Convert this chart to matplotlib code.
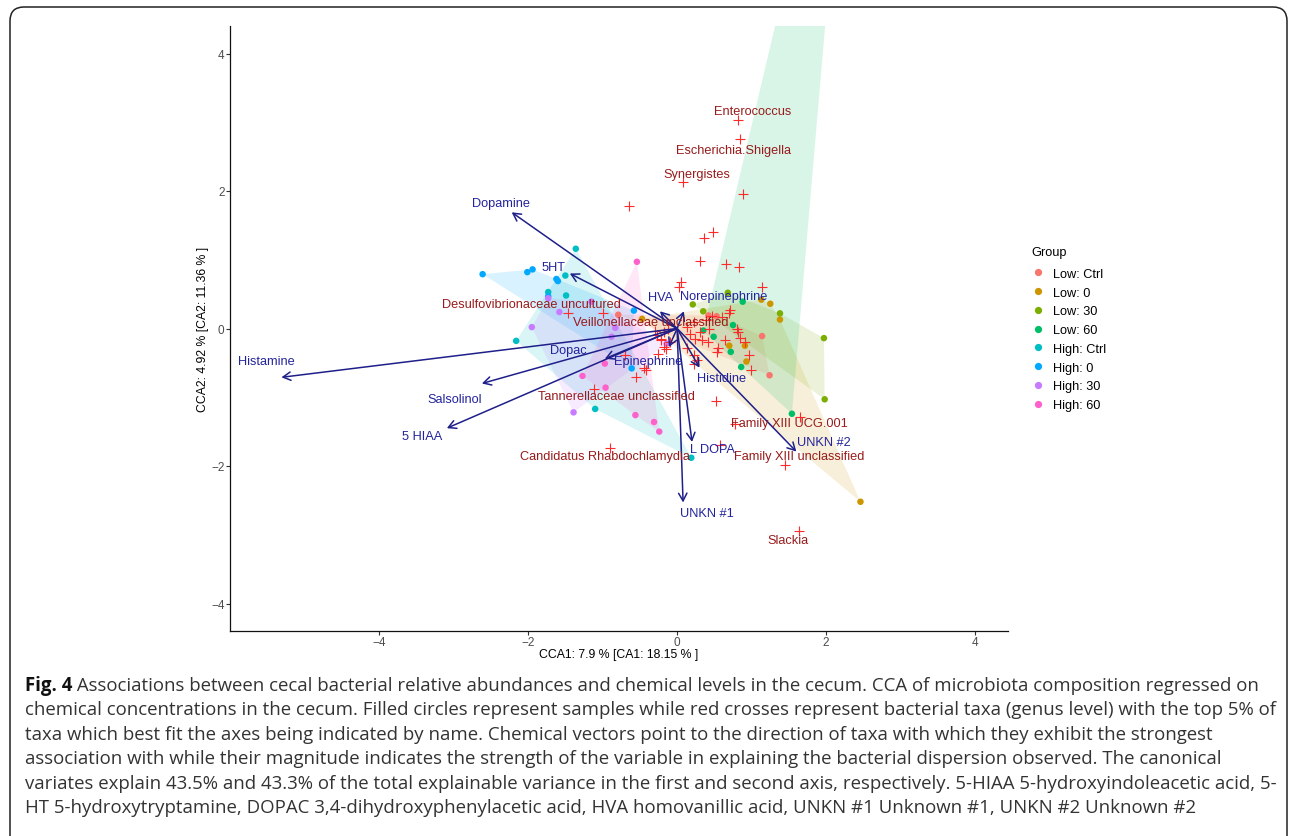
import matplotlib
matplotlib.use("Agg")
import matplotlib.pyplot as plt
from matplotlib.lines import Line2D
from matplotlib.patches import FancyBboxPatch, Polygon
from matplotlib.transforms import IdentityTransform

# ---- 데이터 ----
group_names = ["Low: Ctrl", "Low: 0", "Low: 30", "Low: 60",
               "High: Ctrl", "High: 0", "High: 30", "High: 60"]
group_colors = ["#F8766D", "#CD9600", "#7CAE00", "#00BE67",
                "#00BFC4", "#00A9FF", "#C77CFF", "#FF61CC"]

low_ctrl = [(0.42, 0.19), (0.53, 0.18), (1.14, -0.11), (1.24, -0.68), (-0.79, 0.20)]
low_0 = [(1.13, 0.42), (1.25, 0.36), (1.38, 0.13), (0.70, -0.25), (0.91, -0.25),
         (0.93, -0.48), (2.46, -2.52), (-0.47, 0.14)]
low_30 = [(0.21, 0.35), (0.35, 0.25), (0.68, 0.52), (1.38, 0.22), (1.97, -0.14),
          (1.98, -1.03)]
low_60 = [(0.88, 0.39), (0.75, 0.05), (0.35, -0.03), (0.49, -0.12), (0.72, -0.34),
          (0.86, -0.56), (1.54, -1.24), (2.37, 9.25)]
high_ctrl = [(-1.36, 1.16), (-1.50, 0.77), (-1.73, 0.53), (-1.49, 0.48), (-2.16, -0.18),
             (-1.10, -1.17), (0.19, -1.88)]
high_0 = [(-2.61, 0.79), (-2.01, 0.82), (-1.94, 0.86), (-1.62, 0.72), (-1.60, 0.69),
          (-1.73, 0.47), (-0.58, 0.26), (-0.61, -0.58)]
high_30 = [(-1.73, 0.44), (-1.58, 0.24), (-1.95, 0.02), (-1.15, 0.39), (-0.83, 0.01),
           (-0.88, -0.12), (-1.39, -1.22), (-0.14, -0.22)]
high_60 = [(-0.54, 0.97), (-0.97, -0.51), (-1.27, -0.69), (-0.96, -0.86), (-0.56, -1.26),
           (-0.31, -1.36), (-0.24, -1.50)]
samples = [low_ctrl, low_0, low_30, low_60, high_ctrl, high_0, high_30, high_60]

# 세균 분류군 (빨간 십자)
cross_x = [0.82, 0.85, 0.08, -0.64, 0.89, 0.48, 0.36, 0.31, 0.66, 0.83,
           0.05, 0.03, 1.14, 0.71, 0.69, 0.47, 0.60, 0.39, 0.22, 0.13,
           -0.30, -0.18, 0.17, 0.31, 0.43, 0.80, 0.82, 0.24, 0.33, 0.42,
           0.64, 0.85, 0.91, -0.22, -0.09, -0.18, -0.15, 0.13, 0.55, 0.53,
           0.96, -0.25, 0.22, 0.27, 0.23, 0.99, -0.45, -0.42, -0.55, 0.52,
           -0.99, -1.46, -1.12, -0.70, -0.90, 0.78, 1.65, 1.45, 0.58, 1.64,
           -0.27, -0.21, -0.12]
cross_y = [3.04, 2.75, 2.13, 1.78, 1.95, 1.40, 1.32, 0.98, 0.94, 0.89,
           0.67, 0.60, 0.60, 0.27, 0.23, 0.18, 0.17, 0.12, 0.10, 0.02,
           -0.03, -0.05, -0.08, -0.05, 0.00, 0.00, -0.05, -0.15, -0.17, -0.20,
           -0.16, -0.14, -0.20, -0.17, -0.20, -0.27, -0.30, -0.28, -0.29, -0.34,
           -0.38, -0.37, -0.39, -0.46, -0.51, -0.61, -0.58, -0.61, -0.71, -1.06,
           0.22, 0.23, -0.88, -0.39, -1.74, -1.39, -1.29, -1.99, -1.70, -2.94,
           -0.10, -0.15, 0.00]

taxa_names = ["Enterococcus", "Escherichia.Shigella", "Synergistes",
              "Desulfovibrionaceae uncultured", "Veillonellaceae unclassified",
              "Tannerellaceae unclassified", "Candidatus Rhabdochlamydia",
              "Family XIII UCG.001", "Family XIII unclassified", "Slackia"]
taxa_label_x = [1.01, 0.75, 0.26, -1.96, -0.36, -0.81, -0.97, 1.51, 1.64, 1.49]
taxa_label_y = [3.17, 2.60, 2.25, 0.35, 0.10, -0.98, -1.86, -1.38, -1.85, -3.07]

# 화학물질 벡터
chem_names = ["Dopamine", "5HT", "Histamine", "Salsolinol", "5 HIAA", "Dopac",
              "Epinephrine", "HVA", "Norepinephrine", "Histidine", "L DOPA",
              "UNKN #2", "UNKN #1"]
chem_x = [-2.22, -1.44, -5.31, -2.62, -3.09, -0.97, -0.11, -0.23, 0.09, 0.30,
          0.20, 1.60, 0.08]
chem_y = [1.69, 0.80, -0.71, -0.80, -1.45, -0.44, -0.27, 0.25, 0.25, -0.57,
          -1.65, -1.79, -2.53]
chem_label_x = [-2.36, -1.66, -5.51, -2.99, -3.42, -1.46, -0.39, -0.22, 0.62, 0.60,
                0.47, 1.97, 0.40]
chem_label_y = [1.83, 0.90, -0.48, -1.02, -1.56, -0.32, -0.47, 0.46, 0.47, -0.72,
                -1.76, -1.65, -2.69]

caption_lines = [
    "Associations between cecal bacterial relative abundances and chemical levels in the cecum. CCA of microbiota composition regressed on",
    "chemical concentrations in the cecum. Filled circles represent samples while red crosses represent bacterial taxa (genus level) with the top 5% of",
    "taxa which best fit the axes being indicated by name. Chemical vectors point to the direction of taxa with which they exhibit the strongest",
    "association with while their magnitude indicates the strength of the variable in explaining the bacterial dispersion observed. The canonical",
    "variates explain 43.5% and 43.3% of the total explainable variance in the first and second axis, respectively. 5-HIAA 5-hydroxyindoleacetic acid, 5-",
    "HT 5-hydroxytryptamine, DOPAC 3,4-dihydroxyphenylacetic acid, HVA homovanillic acid, UNKN #1 Unknown #1, UNKN #2 Unknown #2",
]


def convex_hull(points):
    """단조 체인 방식 볼록 껍질"""
    pts = sorted(set(points))
    if len(pts) < 3:
        return pts

    def cross(o, a, b):
        return (a[0] - o[0]) * (b[1] - o[1]) - (a[1] - o[1]) * (b[0] - o[0])

    lower = []
    for p in pts:
        while len(lower) >= 2 and cross(lower[-2], lower[-1], p) <= 0:
            lower.pop()
        lower.append(p)
    upper = []
    for p in reversed(pts):
        while len(upper) >= 2 and cross(upper[-2], upper[-1], p) <= 0:
            upper.pop()
        upper.append(p)
    return lower[:-1] + upper[:-1]


W, H = 1290, 837
fig = plt.figure(figsize=(W / 100, H / 100), dpi=100)
plt.rcParams["font.family"] = ["Liberation Sans", "DejaVu Sans"]

ax = fig.add_axes([230 / W, 1 - 632 / H, 778 / W, 605 / H])
ax.set_xlim(-6.0, 4.44)
ax.set_ylim(-4.4, 4.4)

fs = 9.2
arrow_col = "#1f1f8a"
chem_col = "#23239c"
taxa_col = "#981b1b"

# 그룹별 볼록 껍질 + 샘플 점
for pts, col in zip(samples, group_colors):
    hull = convex_hull(pts)
    ax.add_patch(Polygon(hull, closed=True, facecolor=col, edgecolor="none",
                         alpha=0.15, zorder=1))
for pts, col in zip(samples, group_colors):
    ax.scatter([p[0] for p in pts], [p[1] for p in pts], s=22, color=col,
               edgecolors="none", zorder=2)

ax.scatter(cross_x, cross_y, marker="+", s=45, color="#ff2a2a", linewidths=0.8, zorder=3)

for x, y in zip(chem_x, chem_y):
    ax.annotate("", xy=(x, y), xytext=(0, 0),
                arrowprops=dict(arrowstyle="->,head_length=0.55,head_width=0.3",
                                color=arrow_col, lw=1.1, shrinkA=0, shrinkB=0),
                zorder=4)

for name, x, y in zip(taxa_names, taxa_label_x, taxa_label_y):
    ax.text(x, y, name, color=taxa_col, fontsize=fs, ha="center", va="center", zorder=5)
for name, x, y in zip(chem_names, chem_label_x, chem_label_y):
    ax.text(x, y, name, color=chem_col, fontsize=fs, ha="center", va="center", zorder=5)

# 축 스타일 (theme_classic 느낌)
for s in ["top", "right"]:
    ax.spines[s].set_visible(False)
for s in ["left", "bottom"]:
    ax.spines[s].set_linewidth(0.9)
    ax.spines[s].set_color("#111111")
ax.set_xticks([-4, -2, 0, 2, 4])
ax.set_yticks([-4, -2, 0, 2, 4])
ax.tick_params(direction="out", length=2.75, width=0.8, color="#333333",
               labelcolor="#4d4d4d", labelsize=8.5, pad=1.2)
ax.set_xlabel("CCA1: 7.9 % [CA1: 18.15 % ]", fontsize=8.8)
ax.set_ylabel("CCA2: 4.92 % [CA2: 11.36 % ]", fontsize=8.8)
ax.xaxis.set_label_coords(0.5, -(649 - 632) / 605)
ax.yaxis.set_label_coords(-(230 - 209) / 778, 0.5)

# 범례
handles = [Line2D([], [], marker="o", linestyle="", color=c, markersize=4.2)
           for c in group_colors]
leg = ax.legend(handles, group_names, title="Group", loc="upper left",
                bbox_to_anchor=(1026 / W, 1 - 242 / H), bbox_transform=fig.transFigure,
                frameon=False, fontsize=fs, title_fontsize=fs, handlelength=1.0,
                handletextpad=0.7, labelspacing=0.53, borderaxespad=0, alignment="left")
leg._legend_box.sep = 7

# 외곽 테두리
frame = FancyBboxPatch((10, -20), 1277, H - 8 + 20, boxstyle="round,pad=0,rounding_size=14",
                       transform=IdentityTransform(), facecolor="none",
                       edgecolor="#222222", linewidth=1.1)
fig.add_artist(frame)

# 캡션
renderer = fig.canvas.get_renderer()
cap_font = ["Open Sans", "DejaVu Sans"]
cap_col = "#333333"
x0 = 25
line_y = [686 + 24.5 * i for i in range(len(caption_lines))]
base = 11.0
t_bold = fig.text(x0 / W, 1 - line_y[0] / H, "Fig. 4", fontsize=base, fontweight="bold",
                  family=cap_font, color="#111111", va="center")
t_rest = fig.text(0, 1 - line_y[0] / H, " " + caption_lines[0], fontsize=base,
                  family=cap_font, color=cap_col, va="center")
w = t_bold.get_window_extent(renderer).width + t_rest.get_window_extent(renderer).width
cap_size = base * 1238 / w
t_bold.set_fontsize(cap_size)
t_rest.set_fontsize(cap_size)
bx1 = t_bold.get_window_extent(renderer).x1
t_rest.set_x(bx1 / W)
for line, y in zip(caption_lines[1:], line_y[1:]):
    fig.text(x0 / W, 1 - y / H, line, fontsize=cap_size, family=cap_font,
             color=cap_col, va="center")

fig.savefig("out.png", dpi=100)
